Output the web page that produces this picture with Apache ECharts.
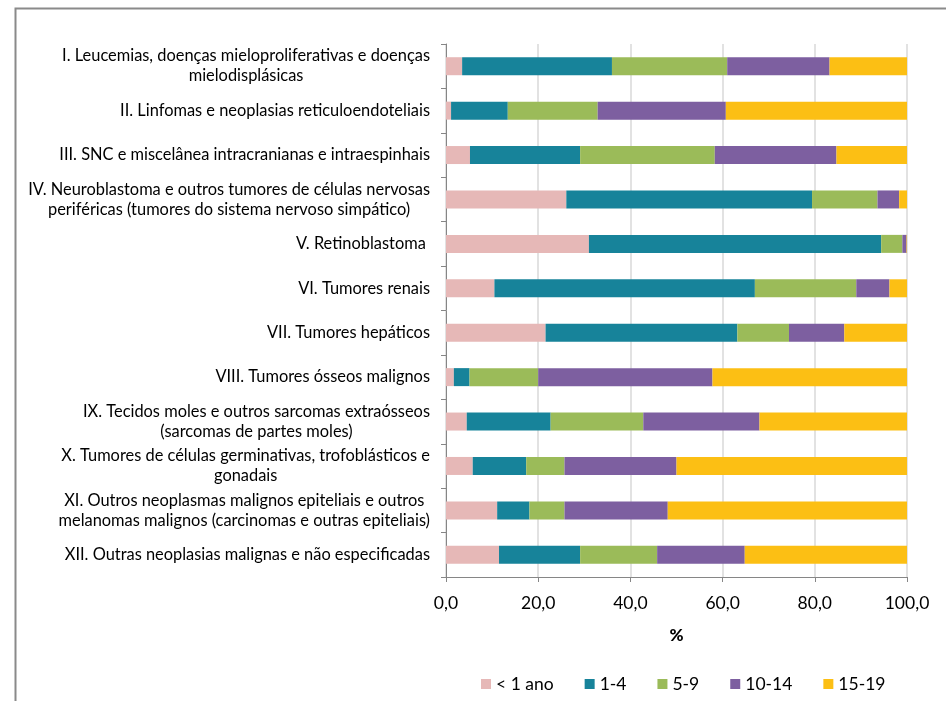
<!DOCTYPE html>
<html lang="pt">

<head>
    <meta charset="UTF-8">
    <title>chart</title>
    <style>
        html,
        body,
        #chart {
            margin: 0;
            padding: 0;
            overflow: hidden;
            width: 100%;
            height: 100%;
            background: #fff;
        }
    </style>
</head>

<body>
    <div id="chart"></div>
    <script src="https://cdn.jsdelivr.net/npm/echarts@6/dist/echarts.min.js"></script>
    <script>
        // grupos diagnósticos (linhas, de cima para baixo)
        var categories = [
            ["I. Leucemias, doenças mieloproliferativas e doenças", "mielodisplásicas"],
            ["II. Linfomas e neoplasias reticuloendoteliais"],
            ["III. SNC e miscelânea intracranianas e intraespinhais"],
            ["IV. Neuroblastoma e outros tumores de células nervosas", "periféricas (tumores do sistema nervoso simpático)"],
            ["V. Retinoblastoma "],
            ["VI. Tumores renais"],
            ["VII. Tumores hepáticos"],
            ["VIII. Tumores ósseos malignos"],
            ["IX. Tecidos moles e outros sarcomas extraósseos", "(sarcomas de partes moles)"],
            ["X. Tumores de células germinativas, trofoblásticos e", "gonadais"],
            ["XI. Outros neoplasmas malignos epiteliais e outros", "melanomas malignos (carcinomas e outras epiteliais)"],
            ["XII. Outras neoplasias malignas e não especificadas"]
        ];

        var ageGroups = ["< 1 ano", "1-4", "5-9", "10-14", "15-19"];
        var colors = ["#e6b8b7", "#17839a", "#9bbb59", "#7d5fa0", "#fcbf14"];

        // % por faixa etária
        var lt1 = [3.5, 1.1, 5.2, 26.1, 31.0, 10.5, 21.6, 1.7, 4.5, 5.8, 11.1, 11.5];
        var a1_4 = [32.5, 12.3, 23.9, 53.3, 63.4, 56.5, 41.6, 3.4, 18.2, 11.6, 7.0, 17.6];
        var a5_9 = [25.0, 19.5, 29.2, 14.2, 4.6, 22.0, 11.2, 14.9, 20.1, 8.3, 7.6, 16.7];
        var a10_14 = [22.2, 27.8, 26.4, 4.7, 0.9, 7.2, 12.0, 37.8, 25.2, 24.3, 22.4, 19.0];
        var a15_19 = [16.8, 39.3, 15.3, 1.7, 0.1, 3.8, 13.6, 42.2, 32.0, 50.0, 51.9, 35.2];

        var xTicks = [0, 20, 40, 60, 80, 100];

        var values = [lt1, a1_4, a5_9, a10_14, a15_19];
        var labelNames = categories.map(function (c) { return c.join("\n"); });

        var chart = echarts.init(document.getElementById('chart'));

        var series = ageGroups.map(function (name, i) {
            return {
                name: name,
                type: 'bar',
                stack: 'total',
                barWidth: 18,
                itemStyle: { color: colors[i] },
                data: values[i]
            };
        });

        chart.setOption({
            animation: false,
            textStyle: { fontFamily: 'Lato' },
            graphic: [{
                type: 'rect',
                shape: { x: 15.5, y: 8.5, width: 2000, height: 2000 },
                style: { fill: 'none', stroke: '#8a8a8a', lineWidth: 2 }
            }],
            grid: { left: 446, right: 39, top: 44, bottom: 124 },
            legend: {
                left: 476,
                top: 670,
                itemWidth: 10,
                itemHeight: 10,
                itemGap: 31,
                icon: 'rect',
                textStyle: { fontSize: 17.5, color: '#000', fontFamily: 'Lato' },
                data: ageGroups
            },
            xAxis: {
                type: 'value',
                min: 0,
                max: 100,
                interval: 20,
                name: '%',
                nameLocation: 'middle',
                nameGap: 50,
                nameTextStyle: { fontSize: 17, fontWeight: 900, color: '#000', fontFamily: 'Lato' },
                axisLine: { show: true, lineStyle: { color: '#868686' } },
                axisTick: { show: true, length: 5, lineStyle: { color: '#868686' } },
                splitLine: { lineStyle: { color: '#d9d9d9', width: 1.5 } },
                axisLabel: {
                    fontSize: 17.5,
                    color: '#000',
                    margin: 17,
                    formatter: function (v) {
                        return xTicks.indexOf(v) >= 0 ? v.toFixed(1).replace('.', ',') : '';
                    }
                }
            },
            yAxis: {
                type: 'category',
                inverse: true,
                data: labelNames,
                axisLine: { lineStyle: { color: '#868686' } },
                axisTick: { show: true, length: 5, lineStyle: { color: '#868686' } },
                axisLabel: {
                    margin: 16,
                    color: '#000',
                    fontSize: 16.4,
                    lineHeight: 20,
                    formatter: function (v) {
                        return v.split("\n").map(function (l) { return '{c|' + l + '}'; }).join("\n");
                    },
                    rich: {
                        c: { align: 'center', fontSize: 16.4, lineHeight: 20, color: '#000', fontFamily: 'Lato' }
                    }
                }
            },
            series: series
        });
    </script>
</body>

</html>
